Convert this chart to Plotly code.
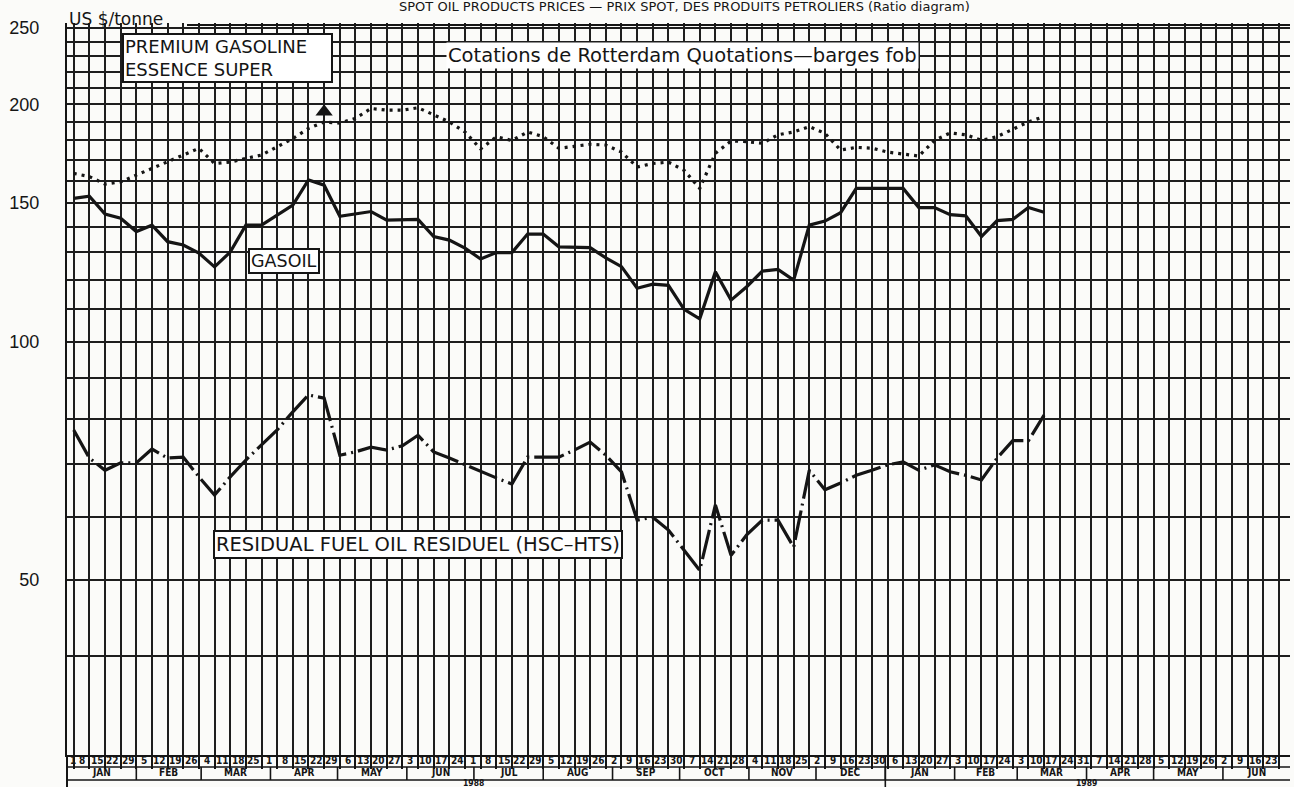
import plotly.graph_objects as go
import pandas as pd
import numpy as np

# ---------------- data (US $/tonne, weekly, Rotterdam barges fob) ----------------
first_week = "1988-01-04"

gasoline = [163.5, 162, 158.5, 159.5, 162.7, 166, 169, 172.5, 175.9, 168.3,
            169, 170.8, 172.5, 176.7, 181, 186.4, 190, 189.3, 192, 197.6,
            196.6, 196.6, 198, 194, 190, 184.5, 175.6, 181.9, 180, 184.5,
            182, 175.9, 177, 178, 177.6, 174, 166.6, 168.3, 169, 165,
            156.5, 173.4, 179.7, 179.4, 178.5, 183, 184.5, 187.4, 183.8, 175,
            176.4, 176, 174, 173, 172, 180, 184, 183, 180, 182,
            186, 190, 193]

gasoil = [152, 153, 145.2, 143.5, 138, 140.6, 134, 132.7, 129.6, 124.5,
          130, 140.6, 140.6, 144.8, 149.1, 160.4, 158, 144.3, 145.2, 146.3,
          142.7, 143, 143, 136, 134.6, 131.5, 127.4, 129.8, 129.8, 137,
          137, 132, 131.7, 131.7, 127.8, 124.6, 117, 118.4, 118, 110,
          107, 122.7, 113, 117.5, 123, 123.6, 119.8, 140.6, 142.3, 145.8,
          156.5, 156.5, 156.5, 156.5, 148, 148, 145, 144.5, 136, 142.5,
          143, 148, 146]

residual = [77.4, 71.3, 68.8, 70.3, 70.3, 73.2, 71.3, 71.5, 67.5, 64,
            67.5, 70.9, 74.1, 77.4, 81.6, 85.7, 84.9, 71.9, 72.6, 73.6,
            73, 73.9, 76.2, 72.6, 71.3, 69.9, 68.5, 67.3, 66.1, 71.5,
            71.5, 71.5, 73, 74.7, 71.9, 68.5, 59.5, 60, 57.8, 54.4,
            51.4, 62.2, 53.7, 57, 59.5, 59.5, 55, 68.8, 65, 66.3,
            67.8, 68.8, 69.9, 70.5, 68.8, 69.9, 68.5, 67.8, 66.9, 71.3,
            75, 75, 80.8]

y_grid_values = [30, 40, 50, 60, 70, 80, 90, 100, 110, 120, 130, 140, 150, 160,
                 170, 180, 190, 200, 210, 220, 230, 240, 250]
y_labelled = [50, 100, 150, 200, 250]

month_names = ["JAN", "FEB", "MAR", "APR", "MAY", "JUN", "JUL", "AUG", "SEP",
               "OCT", "NOV", "DEC", "JAN", "FEB", "MAR", "APR", "MAY", "JUN"]
years = ["1988", "1989"]
week_ending_first = "1988-01-01"
week_ending_last = "1989-06-23"
arrow_week = 16

# ---------------- layout constants ----------------
W, H = 1294, 787
ML, MR, MT, MB = 67, 4, 23, 32
PW, PH = W - ML - MR, H - MT - MB
INK = "#151515"
LETTER = "DejaVu Sans"


def py(pix):
    return (H - MB - pix) / PH


def px(pix):
    return (pix - ML) / PW


dates = pd.date_range(first_week, periods=len(gasoil), freq="7D")

fig = go.Figure()
fig.add_trace(go.Scatter(x=dates, y=gasoline, mode="lines",
                         line=dict(color=INK, width=3.2, dash="3px,5px"),
                         name="Premium gasoline", showlegend=False))
fig.add_trace(go.Scatter(x=dates, y=gasoil, mode="lines",
                         line=dict(color=INK, width=3.2),
                         name="Gasoil", showlegend=False))
fig.add_trace(go.Scatter(x=dates, y=residual, mode="lines",
                         line=dict(color=INK, width=3.2, dash="30px,5px,2px,5px"),
                         name="Residual fuel oil", showlegend=False))
fig.add_trace(go.Scatter(x=[dates[arrow_week]], y=[gasoline[arrow_week] * 1.03],
                         mode="markers",
                         marker=dict(symbol="triangle-up", size=15, color=INK),
                         showlegend=False, hoverinfo="skip"))

ann = []
shapes = []

# title (cut at top in the reference; kept fully visible here)
ann.append(dict(text="SPOT OIL PRODUCTS PRICES — PRIX SPOT, DES PRODUITS PETROLIERS (Ratio diagram)",
                x=px(685), y=py(7), xref="paper", yref="paper", showarrow=False,
                xanchor="center", yanchor="middle",
                font=dict(family=LETTER, size=13, color=INK)))
ann.append(dict(text="US $/tonne", x=0, y=py(19), xref="paper", yref="paper",
                showarrow=False, xanchor="left", yanchor="middle",
                font=dict(family=LETTER, size=17, color=INK)))
shapes.append(dict(type="line", xref="paper", yref="paper", x0=px(187), x1=1,
                   y0=py(25), y1=py(25), line=dict(color=INK, width=2)))

ann.append(dict(text="PREMIUM GASOLINE<br>ESSENCE SUPER", x=px(122), y=py(58),
                xref="paper", yref="paper", showarrow=False, xanchor="left",
                yanchor="middle", align="left", width=205,
                font=dict(family=LETTER, size=18, color=INK),
                bgcolor="white", bordercolor=INK, borderwidth=2, borderpad=1))
ann.append(dict(text="Cotations de Rotterdam Quotations—barges fob", x=px(682), y=py(56),
                xref="paper", yref="paper", showarrow=False, xanchor="center",
                yanchor="middle", font=dict(family=LETTER, size=19.5, color=INK),
                bgcolor="white", borderpad=1))
ann.append(dict(text="GASOIL", x=px(284), y=py(261), xref="paper", yref="paper",
                showarrow=False, xanchor="center", yanchor="middle",
                font=dict(family=LETTER, size=17.5, color=INK),
                bgcolor="white", bordercolor=INK, borderwidth=2, borderpad=1))
ann.append(dict(text="RESIDUAL FUEL OIL RESIDUEL (HSC–HTS)", x=px(418), y=py(544),
                xref="paper", yref="paper", showarrow=False, xanchor="center",
                yanchor="middle", font=dict(family=LETTER, size=19.5, color=INK),
                bgcolor="white", bordercolor=INK, borderwidth=2, borderpad=1))

# ---------------- date table below the grid ----------------
small_font = dict(family="Liberation Sans Narrow, DejaVu Sans Condensed, Arial Narrow, sans-serif",
                  size=10, color=INK)
fridays = pd.date_range(week_ending_first, week_ending_last, freq="W-FRI")
x_start = pd.Timestamp("1988-01-01")
x_end = pd.Timestamp("1989-07-01")
for d in fridays:
    xpos = max(d - pd.Timedelta(hours=12), x_start + pd.Timedelta(hours=60))
    ann.append(dict(text=f"<b>{d.day}</b>", x=xpos, y=py(761), xref="x", yref="paper",
                    showarrow=False, xanchor="center", yanchor="middle", font=small_font))

month_starts = pd.date_range("1988-01-01", periods=len(month_names) + 1, freq="MS")
for i, name in enumerate(month_names):
    mid = month_starts[i] + (month_starts[i + 1] - month_starts[i]) / 2
    ann.append(dict(text=f"<b>{name}</b>", x=mid, y=py(773), xref="x", yref="paper",
                    showarrow=False, xanchor="center", yanchor="middle", font=small_font))
    shapes.append(dict(type="line", xref="x", yref="paper", x0=month_starts[i], x1=month_starts[i],
                       y0=py(767), y1=py(780), line=dict(color=INK, width=1.6)))

year_font = dict(family=small_font["family"], size=8.5, color=INK)
year_mid = [pd.Timestamp("1988-07-01"), pd.Timestamp("1989-04-01")]
for yl, xm in zip(years, year_mid):
    ann.append(dict(text=f"<b>{yl}</b>", x=xm, y=py(783), xref="x", yref="paper",
                    showarrow=False, xanchor="center", yanchor="middle", font=year_font))
shapes.append(dict(type="line", xref="x", yref="paper", x0="1989-01-01", x1="1989-01-01",
                   y0=py(755), y1=py(790), line=dict(color=INK, width=1.6)))
for ypix in (767, 780):
    shapes.append(dict(type="line", xref="paper", yref="paper", x0=0, x1=1,
                       y0=py(ypix), y1=py(ypix), line=dict(color=INK, width=1.6)))
shapes.append(dict(type="line", xref="paper", yref="paper", x0=0, x1=0,
                   y0=py(755), y1=py(790), line=dict(color=INK, width=2)))

grid_col = "#1e1e1e"
fig.update_layout(
    width=W, height=H,
    margin=dict(l=ML, r=MR, t=MT, b=MB, pad=0, autoexpand=False),
    paper_bgcolor="#fbfbf9", plot_bgcolor="#fbfbf9",
    showlegend=False,
    annotations=ann, shapes=shapes,
    xaxis=dict(type="date", range=[x_start, x_end], tick0=first_week,
               dtick=7 * 24 * 3600 * 1000, showgrid=True, gridcolor=grid_col,
               gridwidth=1.6, ticks="outside", ticklen=12, tickwidth=1.6,
               tickcolor=INK, showticklabels=False, showline=True,
               linecolor=INK, linewidth=2, zeroline=False, automargin=False),
    yaxis=dict(type="log", range=[np.log10(30), np.log10(253.5)],
               tickvals=y_grid_values,
               ticktext=[str(v) if v in y_labelled else "" for v in y_grid_values],
               showgrid=True, gridcolor=grid_col, gridwidth=1.6, ticks="",
               ticklabelstandoff=22, automargin=False,
               tickfont=dict(family="Liberation Sans", size=18, color=INK),
               showline=True, linecolor=INK, linewidth=2, zeroline=False),
)

fig.write_html("out.html",
               config={"displayModeBar": False},
               post_script="document.body.style.margin='0px';"
                           "document.body.style.overflow='hidden';"
                           "document.body.style.background='#fbfbf9';")
